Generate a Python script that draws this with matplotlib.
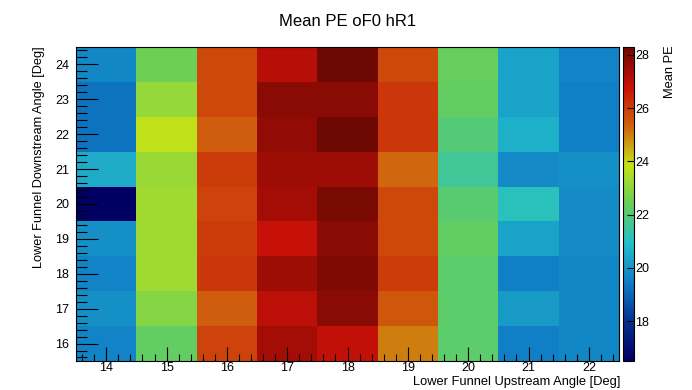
import numpy as np
import matplotlib.pyplot as plt
from matplotlib.colors import LinearSegmentedColormap
from matplotlib.ticker import MultipleLocator

plt.rcParams['font.family'] = ['Liberation Sans', 'DejaVu Sans']

# bin centres
x_angles = [14, 15, 16, 17, 18, 19, 20, 21, 22]
y_angles = [16, 17, 18, 19, 20, 21, 22, 23, 24]

# mean PE, one list per upstream angle (column), bottom (16) to top (24)
col_14 = [19.6, 19.9, 19.6, 19.9, 16.5, 20.5, 19.3, 19.3, 19.7]
col_15 = [22.3, 22.9, 23.3, 23.3, 23.3, 23.2, 23.8, 23.1, 22.5]
col_16 = [25.9, 25.4, 26.1, 26.0, 25.9, 26.0, 25.4, 25.8, 25.8]
col_17 = [27.4, 27.0, 27.5, 26.8, 27.4, 27.5, 27.7, 27.8, 27.1]
col_18 = [26.9, 27.8, 28.0, 27.8, 28.1, 27.5, 28.3, 27.8, 28.3]
col_19 = [25.0, 25.5, 26.0, 25.8, 25.8, 25.3, 26.1, 26.1, 25.8]
col_20 = [22.2, 22.2, 22.2, 22.3, 22.1, 21.6, 22.0, 22.3, 22.4]
col_21 = [19.5, 20.1, 19.5, 20.3, 21.1, 19.8, 20.6, 20.3, 20.3]
col_22 = [19.7, 19.7, 19.7, 19.8, 19.8, 19.9, 19.5, 19.5, 19.6]

z_min = 16.5
z_max = 28.3

# ROOT kRainBow palette
red = [0, 5, 15, 35, 102, 196, 208, 199, 110]
green = [0, 48, 124, 192, 206, 226, 97, 16, 8]
blue = [99, 142, 198, 201, 90, 22, 13, 8, 2]
stops = np.linspace(0, 1, 9)
cmap = LinearSegmentedColormap.from_list(
    "rainbow_root",
    [(s, (r / 255, g / 255, b / 255)) for s, r, g, b in zip(stops, red, green, blue)],
)

z = np.array([col_14, col_15, col_16, col_17, col_18, col_19, col_20, col_21, col_22]).T
x_edges = np.array(x_angles + [x_angles[-1] + 1]) - 0.5
y_edges = np.array(y_angles + [y_angles[-1] + 1]) - 0.5

fig = plt.figure(figsize=(6.92, 3.9), dpi=100)
ax = fig.add_axes([0.110, 0.0744, 0.7845, 0.8051])
mesh = ax.pcolormesh(x_edges, y_edges, z, cmap=cmap, vmin=z_min, vmax=z_max)

ax.set_xlim(x_edges[0], x_edges[-1])
ax.set_ylim(y_edges[0], y_edges[-1])
ax.xaxis.set_major_locator(MultipleLocator(1))
ax.xaxis.set_minor_locator(MultipleLocator(0.2))
ax.yaxis.set_major_locator(MultipleLocator(1))
ax.yaxis.set_minor_locator(MultipleLocator(0.2))
ax.tick_params(axis='x', which='major', direction='in', length=10, width=0.8, labelsize=9, pad=1)
ax.tick_params(axis='x', which='minor', direction='in', length=5, width=0.8)
ax.tick_params(axis='y', which='major', direction='in', length=16, width=0.8, labelsize=9, pad=5)
ax.tick_params(axis='y', which='minor', direction='in', length=8, width=0.8)
for s in ax.spines.values():
    s.set_linewidth(0.8)

fig.text(620 / 692, 1 - 382 / 390, "Lower Funnel Upstream Angle [Deg]",
         ha='right', va='center', fontsize=9.3)
fig.text(39 / 692, 1 - 46 / 390, "Lower Funnel Downstream Angle [Deg]",
         ha='center', va='top', rotation=90, fontsize=9.2)
fig.text(348 / 692, 1 - 22 / 390, "Mean PE oF0 hR1", ha='center', va='center', fontsize=12)

cax = fig.add_axes([0.900, 0.0744, 0.0155, 0.8051])
cb = fig.colorbar(mesh, cax=cax)
cb.set_ticks([18, 20, 22, 24, 26, 28])
cb.outline.set_linewidth(0.8)
cax.tick_params(direction='in', length=5, width=0.8, labelsize=9, pad=1)
fig.text(670 / 692, 1 - 45 / 390, "Mean PE", ha='center', va='top', rotation=90, fontsize=9.3)

plt.savefig("out.png", dpi=100)
plt.close()
